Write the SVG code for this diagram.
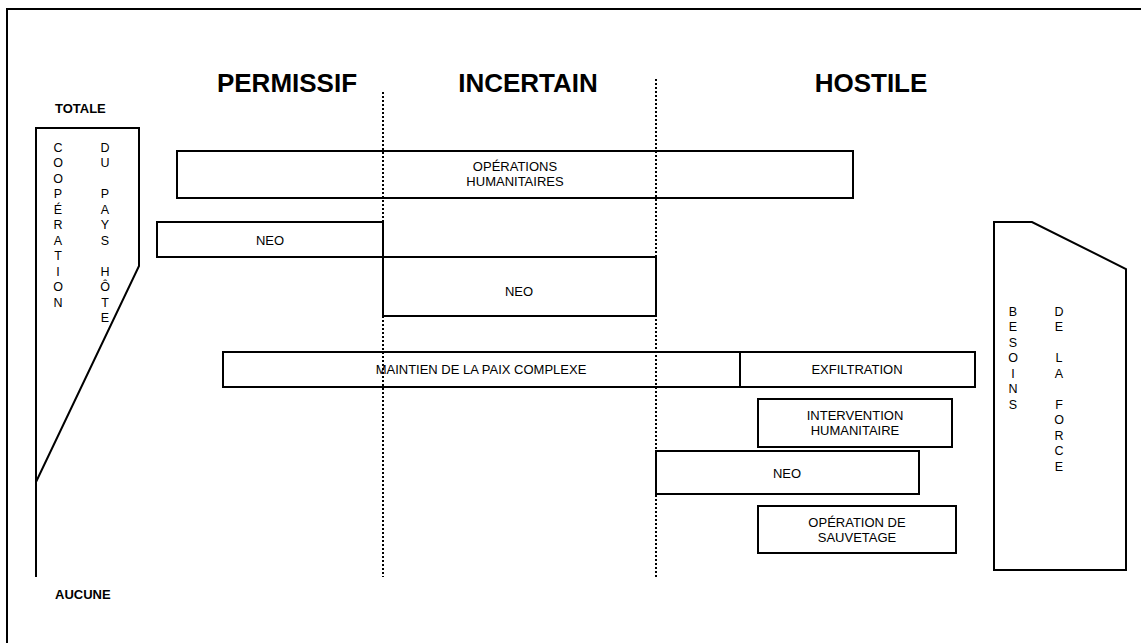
<svg xmlns="http://www.w3.org/2000/svg" width="1141" height="643" viewBox="0 0 1141 643">
<style>
.frame{fill:none;stroke:#000;stroke-width:2}
.box{fill:none;stroke:#000;stroke-width:2}
.dot{fill:none;stroke:#000;stroke-width:2;stroke-dasharray:2 2}
.hdr{font-family:"Liberation Sans",Arial,sans-serif;font-weight:bold;font-size:26px;text-anchor:middle;fill:#000}
.axis{font-family:"Liberation Sans",Arial,sans-serif;font-weight:bold;font-size:13px;fill:#000}
.lbl{font-family:"Liberation Sans",Arial,sans-serif;font-size:13px;text-anchor:middle;fill:#000}
.vert{font-family:"Liberation Sans",Arial,sans-serif;font-size:12.5px;text-anchor:middle;fill:#000}
</style>
<rect x="0" y="0" width="1141" height="643" fill="#fff"/>
<rect class="frame" x="7" y="9" width="1200" height="700"/>

<g id="headers">
<text class="hdr" x="287" y="92">PERMISSIF</text>
<text class="hdr" x="528" y="92">INCERTAIN</text>
<text class="hdr" x="871" y="92">HOSTILE</text>
<text class="axis" x="55" y="113">TOTALE</text>
<text class="axis" x="55" y="599">AUCUNE</text>
</g>

<g id="dividers">
<line class="dot" x1="383" y1="92" x2="383" y2="577"/>
<line class="dot" x1="656" y1="79" x2="656" y2="577"/>
</g>

<g id="cooperation">
<path class="frame" d="M36,577 V128 H139 V266 L36,482"/>
<text class="vert" x="58" y="151.5"><tspan x="58" dy="0">C</tspan><tspan x="58" dy="15.5">O</tspan><tspan x="58" dy="15.5">O</tspan><tspan x="58" dy="15.5">P</tspan><tspan x="58" dy="15.5">É</tspan><tspan x="58" dy="15.5">R</tspan><tspan x="58" dy="15.5">A</tspan><tspan x="58" dy="15.5">T</tspan><tspan x="58" dy="15.5">I</tspan><tspan x="58" dy="15.5">O</tspan><tspan x="58" dy="15.5">N</tspan></text>
<text class="vert" x="105" y="151.5"><tspan x="105" dy="0">D</tspan><tspan x="105" dy="15.5">U</tspan><tspan x="105" dy="31">P</tspan><tspan x="105" dy="15.5">A</tspan><tspan x="105" dy="15.5">Y</tspan><tspan x="105" dy="15.5">S</tspan><tspan x="105" dy="31">H</tspan><tspan x="105" dy="15.5">Ô</tspan><tspan x="105" dy="15.5">T</tspan><tspan x="105" dy="15.5">E</tspan></text>
</g>

<g id="besoins">
<path class="frame" d="M994,570 V222 H1032 L1126,269 V570 Z"/>
<text class="vert" x="1013" y="315.5"><tspan x="1013" dy="0">B</tspan><tspan x="1013" dy="15.5">E</tspan><tspan x="1013" dy="15.5">S</tspan><tspan x="1013" dy="15.5">O</tspan><tspan x="1013" dy="15.5">I</tspan><tspan x="1013" dy="15.5">N</tspan><tspan x="1013" dy="15.5">S</tspan></text>
<text class="vert" x="1059" y="315.5"><tspan x="1059" dy="0">D</tspan><tspan x="1059" dy="15.5">E</tspan><tspan x="1059" dy="31">L</tspan><tspan x="1059" dy="15.5">A</tspan><tspan x="1059" dy="31">F</tspan><tspan x="1059" dy="15.5">O</tspan><tspan x="1059" dy="15.5">R</tspan><tspan x="1059" dy="15.5">C</tspan><tspan x="1059" dy="15.5">E</tspan></text>
</g>

<g id="ops-humanitaires">
<rect class="box" x="177" y="151" width="676" height="47"/>
<text class="lbl" x="515" y="171">OPÉRATIONS</text>
<text class="lbl" x="515" y="186">HUMANITAIRES</text>
</g>

<g id="neo-1">
<rect class="box" x="157" y="222" width="226" height="35"/>
<text class="lbl" x="270" y="244.5">NEO</text>
</g>

<g id="neo-2">
<rect class="box" x="383" y="257" width="273" height="59"/>
<text class="lbl" x="519" y="295.5">NEO</text>
</g>

<g id="maintien">
<rect class="box" x="223" y="352" width="517" height="35"/>
<text class="lbl" x="481" y="374">MAINTIEN DE LA PAIX COMPLEXE</text>
</g>

<g id="exfiltration">
<rect class="box" x="740" y="352" width="235" height="35"/>
<text class="lbl" x="857" y="374">EXFILTRATION</text>
</g>

<g id="intervention">
<rect class="box" x="758" y="399" width="194" height="48"/>
<text class="lbl" x="855" y="419.5">INTERVENTION</text>
<text class="lbl" x="855" y="434.5">HUMANITAIRE</text>
</g>

<g id="neo-3">
<rect class="box" x="656" y="451" width="263" height="43"/>
<text class="lbl" x="787" y="477.5">NEO</text>
</g>

<g id="sauvetage">
<rect class="box" x="758" y="506" width="198" height="47"/>
<text class="lbl" x="857" y="526.5">OPÉRATION DE</text>
<text class="lbl" x="857" y="542">SAUVETAGE</text>
</g>
</svg>
